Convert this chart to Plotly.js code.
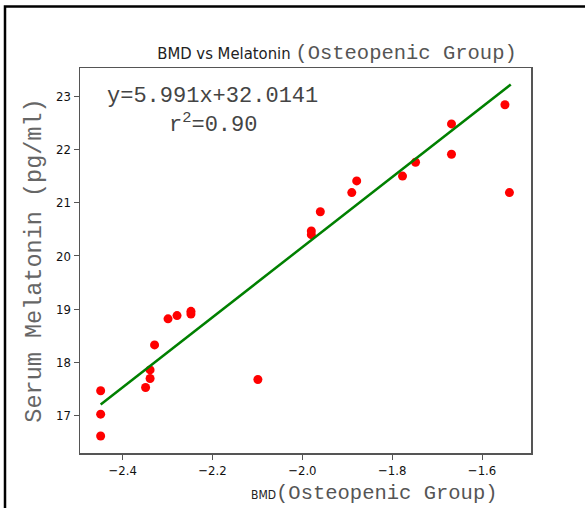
<!DOCTYPE html>
<html>
<head>
<meta charset="utf-8">
<script src="https://cdn.plot.ly/plotly-3.0.1.min.js"></script>
<style>
  html, body { margin: 0; padding: 0; background: #fff; }
  #chart { width: 585px; height: 508px; }
</style>
</head>
<body>
<div id="chart"></div>
<script>
// Data
const bmd = [-2.449, -2.449, -2.449, -2.349, -2.339, -2.339, -2.329, -2.299, -2.279, -2.248, -2.248, -2.099,
             -1.980, -1.980, -1.960, -1.890, -1.879, -1.777, -1.748, -1.668, -1.668, -1.549, -1.539];
const melatonin = [17.47, 17.03, 16.62, 17.53, 17.70, 17.86, 18.33, 18.82, 18.88, 18.96, 18.91, 17.68,
                   20.40, 20.47, 20.83, 21.19, 21.41, 21.50, 21.76, 22.48, 21.91, 22.84, 21.19];
// Fitted line endpoints as drawn in the picture
const fitX = [-2.449, -1.536];
const fitY = [17.21, 23.22];
const xTicks = [-2.4, -2.2, -2.0, -1.8, -1.6];
const xTickText = ['\u22122.4', '\u22122.2', '\u22122.0', '\u22121.8', '\u22121.6'];
const yTicks = [17, 18, 19, 20, 21, 22, 23];
const eqText = 'y=5.991x+32.0141';
const r2Text = 'r<sup>2</sup>=0.90';

const sans = '"DejaVu Sans Condensed", "DejaVu Sans", sans-serif';
const mono = '"Liberation Mono", "DejaVu Sans Mono", monospace';
const monoS = mono.replace(/"/g, "'");

const traces = [
  {
    x: bmd, y: melatonin, type: 'scatter', mode: 'markers',
    marker: { color: '#ff0000', size: 9 },
    showlegend: false, hoverinfo: 'x+y'
  },
  {
    x: fitX, y: fitY, type: 'scatter', mode: 'lines',
    line: { color: '#008000', width: 2.5 },
    showlegend: false, hoverinfo: 'skip'
  }
];

const layout = {
  width: 585, height: 508,
  margin: { l: 80, r: 54, t: 68, b: 55 },
  paper_bgcolor: '#ffffff', plot_bgcolor: '#ffffff',
  showlegend: false,
  title: {
    text: 'BMD vs Melatonin ' +
          '<span style="font-family:' + monoS + ';font-size:20.5px;color:#555">(Osteopenic Group)</span>',
    font: { family: sans, size: 16.5, color: '#222' },
    xref: 'paper', x: (337 - 80) / 451, xanchor: 'center',
    yref: 'container', y: 1 - 53 / 508, yanchor: 'middle'
  },
  xaxis: {
    range: [-2.495, -1.491],
    tickmode: 'array', tickvals: xTicks, ticktext: xTickText,
    ticks: 'outside', ticklen: 5, tickwidth: 1, tickcolor: '#555',
    showline: true, linecolor: '#555', linewidth: 1.5, mirror: true,
    showgrid: false, zeroline: false,
    tickfont: { family: sans, size: 13, color: '#111' }
  },
  yaxis: {
    range: [16.30, 23.53],
    tickmode: 'array', tickvals: yTicks,
    ticks: 'outside', ticklen: 5, tickwidth: 1, tickcolor: '#555',
    showline: true, linecolor: '#555', linewidth: 1.5, mirror: true,
    showgrid: false, zeroline: false,
    tickfont: { family: sans, size: 13, color: '#111' },
    title: {
      text: 'Serum Melatonin (pg/ml)',
      font: { family: mono, size: 23.5, color: '#666' },
      standoff: 8
    }
  },
  annotations: [
    {
      xref: 'paper', yref: 'paper',
      x: (374 - 80) / 451, y: (453 - 493) / 385,
      xanchor: 'center', yanchor: 'middle', showarrow: false,
      text: 'BMD<span style="font-family:' + monoS + ';font-size:20.5px;color:#555">(Osteopenic Group)</span>',
      font: { family: sans, size: 12, color: '#222' }
    },
    {
      xref: 'paper', yref: 'paper',
      x: (212 - 80) / 451, y: (453 - 96) / 385,
      xanchor: 'center', yanchor: 'middle', showarrow: false,
      text: eqText,
      font: { family: mono, size: 22, color: '#444' }
    },
    {
      xref: 'paper', yref: 'paper',
      x: (213 - 80) / 451, y: (453 - 123) / 385,
      xanchor: 'center', yanchor: 'middle', showarrow: false,
      text: r2Text,
      font: { family: mono, size: 22, color: '#444' }
    }
  ],
  shapes: [
    {
      type: 'rect', xref: 'paper', yref: 'paper',
      x0: (5 - 80) / 451, x1: 1.3, y0: -0.3, y1: (453 - 6.5) / 385,
      line: { color: '#000', width: 2.5 }, fillcolor: 'rgba(0,0,0,0)', layer: 'below'
    }
  ]
};

Plotly.newPlot('chart', traces, layout, { displayModeBar: false, staticPlot: true });
</script>
</body>
</html>
